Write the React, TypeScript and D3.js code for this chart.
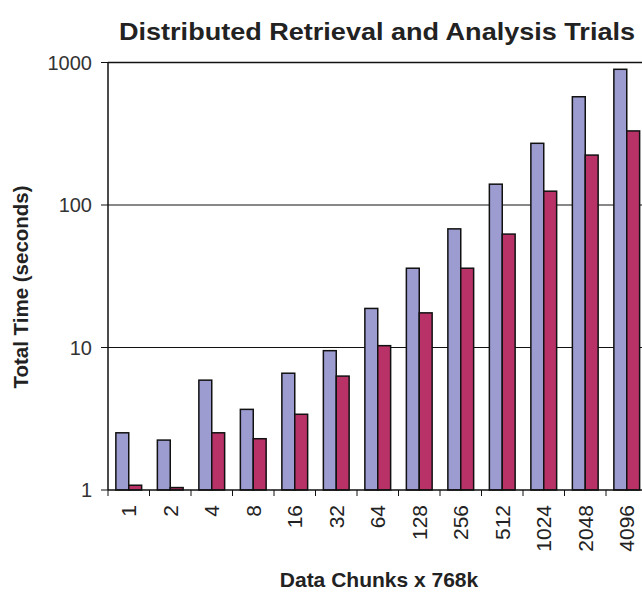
import React from 'react';
import * as d3 from 'd3';

const chunks = ['1', '2', '4', '8', '16', '32', '64', '128', '256', '512', '1024', '2048', '4096'];
const seriesA = [2.52, 2.24, 5.9, 3.68, 6.6, 9.5, 18.8, 36, 68, 140, 271, 575, 896];
const seriesB = [1.08, 1.04, 2.52, 2.29, 3.4, 6.3, 10.3, 17.5, 36, 62.5, 125, 224, 331];
const yTicks = [1, 10, 100, 1000];

const W = 642;
const H = 592;
const margin = { top: 62.5, right: -5.5, bottom: 102, left: 108 };
const font = 'Liberation Sans, Arial, Helvetica, sans-serif';

const App: React.FC = () => {
  const x = d3.scaleBand<string>().domain(chunks).range([margin.left, W - margin.right]).padding(0);
  const inner = d3.scaleBand<string>().domain(['a', 'b']).range([0, x.bandwidth()]).paddingInner(0).paddingOuter(0.61);
  const y = d3.scaleLog().domain([1, 1000]).range([H - margin.bottom, margin.top]);
  const base = y(1);

  return (
    <svg width={W} height={H} style={{ position: 'absolute', left: 0, top: 0, background: '#fff' }}>
      <text x={377} y={40} textAnchor="middle" fontFamily={font} fontWeight="bold" fontSize={24}
        textLength={516} lengthAdjust="spacingAndGlyphs" fill="#222">
        Distributed Retrieval and Analysis Trials
      </text>

      {/* gridlines */}
      {yTicks.slice(1).map(t => (
        <line key={t} x1={margin.left} x2={W} y1={y(t)} y2={y(t)} stroke="#111" strokeWidth={t === 1000 ? 1.6 : 1} />
      ))}

      {/* bars */}
      {chunks.map((c, i) => (
        <g key={c} transform={`translate(${x(c)},0)`}>
          <rect x={inner('a')} y={y(seriesA[i])} width={inner.bandwidth()} height={base - y(seriesA[i])}
            fill="#9c9cd0" stroke="#111" strokeWidth={1.5} />
          <rect x={inner('b')} y={y(seriesB[i])} width={inner.bandwidth()} height={base - y(seriesB[i])}
            fill="#b83268" stroke="#111" strokeWidth={1.5} />
        </g>
      ))}

      {/* y axis */}
      <line x1={margin.left} x2={margin.left} y1={margin.top} y2={base} stroke="#111" strokeWidth={1.5} />
      {yTicks.map(t => (
        <g key={t}>
          <line x1={margin.left - 7} x2={margin.left} y1={y(t)} y2={y(t)} stroke="#111" strokeWidth={1} />
          <text x={92} y={y(t)} dy="0.35em" textAnchor="end" fontFamily={font} fontSize={20} fill="#333">{t}</text>
        </g>
      ))}

      {/* x axis */}
      <line x1={margin.left} x2={W} y1={base} y2={base} stroke="#111" strokeWidth={1.5} />
      {chunks.map(c => (
        <line key={'t' + c} x1={x(c)!} x2={x(c)!} y1={base} y2={base + 6} stroke="#111" strokeWidth={1} />
      ))}
      {chunks.map(c => (
        <text key={'l' + c} transform={`translate(${x(c)! + x.bandwidth() / 2},${base + 15}) rotate(-90)`}
          dy="0.35em" textAnchor="end" fontFamily={font} fontSize={21} fill="#222">{c}</text>
      ))}

      <text x={379} y={587} textAnchor="middle" fontFamily={font} fontWeight="bold" fontSize={21} fill="#222">
        Data Chunks x 768k
      </text>
      <text transform={`translate(28,287) rotate(-90)`} textAnchor="middle" fontFamily={font} fontWeight="bold" fontSize={20.5} fill="#222">
        Total Time (seconds)
      </text>
    </svg>
  );
};

export default App;
